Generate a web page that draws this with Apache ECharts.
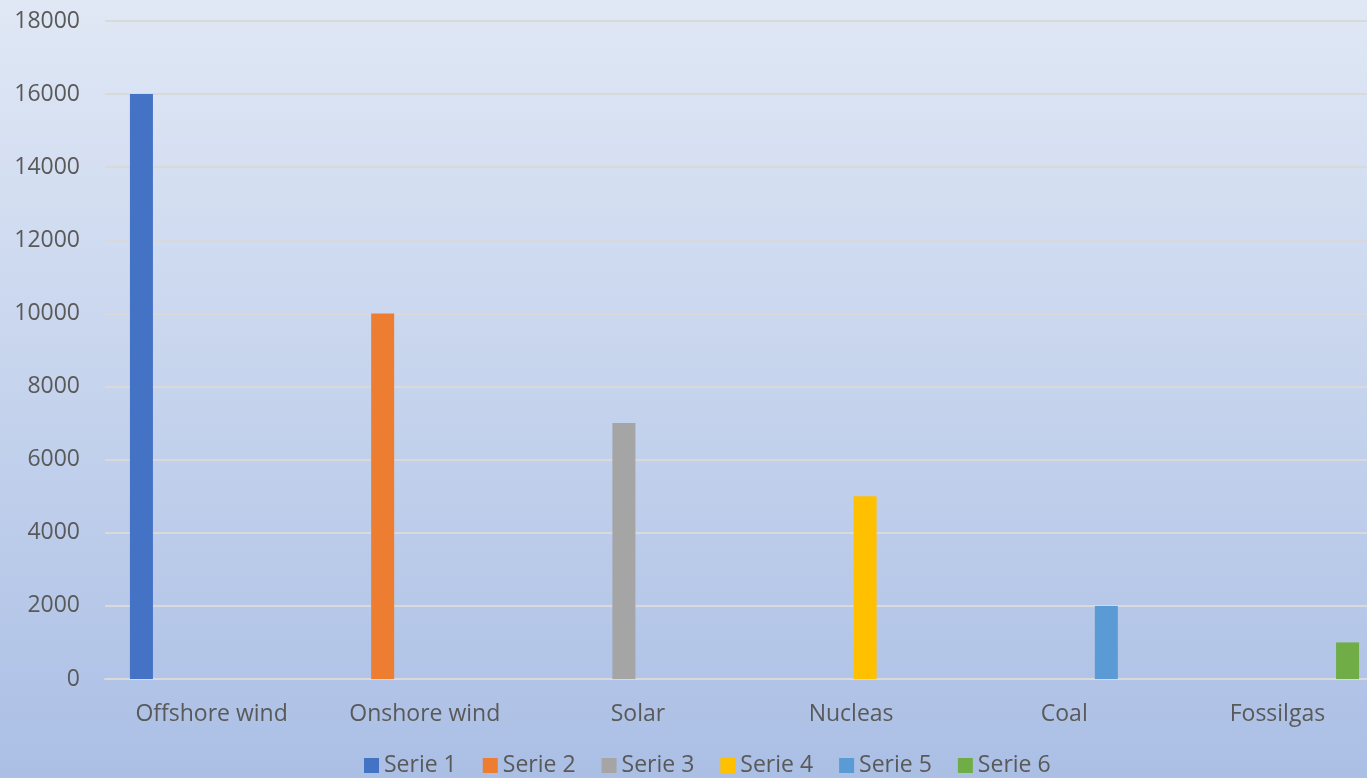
<!DOCTYPE html>
<html>
<head>
<meta charset="utf-8">
<script src="https://cdn.jsdelivr.net/npm/echarts@6/dist/echarts.min.js"></script>
<style>
html,body{margin:0;padding:0;}
#c{width:1367px;height:778px;}
</style>
</head>
<body>
<div id="c"></div>
<script>
var categories = ['Offshore wind', 'Onshore wind', 'Solar', 'Nucleas', 'Coal', 'Fossilgas'];
var seriesNames = ['Serie 1', 'Serie 2', 'Serie 3', 'Serie 4', 'Serie 5', 'Serie 6'];
var serie1 = [16000, null, null, null, null, null];
var serie2 = [null, 10000, null, null, null, null];
var serie3 = [null, null, 7000, null, null, null];
var serie4 = [null, null, null, 5000, null, null];
var serie5 = [null, null, null, null, 2000, null];
var serie6 = [null, null, null, null, null, 1000];
var yTicks = { min: 0, max: 18000, interval: 2000 };
var colors = ['#4472c4', '#ed7d31', '#a5a5a5', '#ffc000', '#5b9bd5', '#70ad47'];

var allData = [serie1, serie2, serie3, serie4, serie5, serie6];
var font = '"Open Sans", "Noto Sans", sans-serif';
var chart = echarts.init(document.getElementById('c'));
chart.setOption({
  backgroundColor: {
    type: 'linear', x: 0, y: 0, x2: 0, y2: 1,
    colorStops: [{offset: 0, color: '#e0e8f5'}, {offset: 1, color: '#abbfe5'}]
  },
  animation: false,
  color: colors,
  grid: { left: 105, top: 21, bottom: 99, width: 1279, outerBoundsMode: 'none', containLabel: false },
  legend: {
    bottom: -4,
    left: 359,
    itemWidth: 15,
    itemHeight: 15,
    itemGap: 26,
    icon: 'rect',
    textStyle: { color: '#595959', fontSize: 23, fontFamily: font, padding: [0, 0, 0, 0] },
    data: seriesNames
  },
  xAxis: {
    type: 'category',
    data: categories,
    axisTick: { show: false },
    axisLine: { lineStyle: { color: '#d9d9d9', width: 2 } },
    axisLabel: { color: '#595959', fontSize: 23, fontFamily: font, margin: 24 }
  },
  yAxis: {
    type: 'value',
    min: yTicks.min, max: yTicks.max, interval: yTicks.interval,
    axisLine: { show: false },
    axisTick: { show: false },
    splitLine: { lineStyle: { color: '#d9d9d9', width: 2 } },
    axisLabel: { color: '#595959', fontSize: 23, fontFamily: font, margin: 25, formatter: function (v) { return String(v); } }
  },
  series: allData.map(function (d, i) {
    return {
      name: seriesNames[i],
      type: 'bar',
      data: d,
      barWidth: 23,
      barGap: '22%'
    };
  })
});
</script>
</body>
</html>
